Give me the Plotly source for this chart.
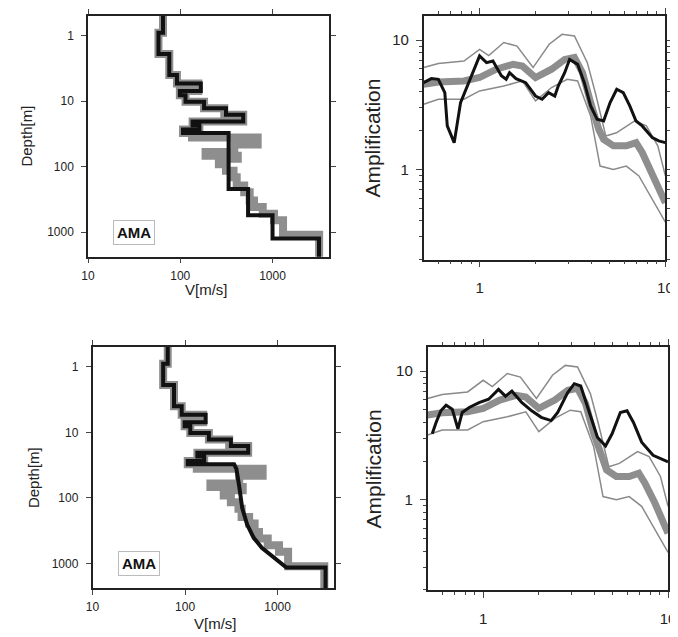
import numpy as np
import plotly.graph_objects as go

FONT = "Liberation Sans, Arial, Helvetica, sans-serif"

# ---- velocity profiles (V [m/s], layer bottom depth [m]) ----
black_v = [65, 58, 76, 92, 167, 99, 114, 181, 313, 481, 136, 161, 107, 334, 543, 1000, 3190]
black_d = [0.9, 1.9, 4.0, 5.4, 7.0, 8.1, 10.2, 12.8, 16.2, 20.4, 23.4, 27.2, 30.6, 219, 555, 1250, 5000]

gray_v = [65, 58, 76, 92, 157, 99, 114, 181, 300, 481, 136, 161, 107, 134, 690, 385, 188,
          420, 262, 313, 378, 409, 493, 565, 630, 783, 1037, 1300, 3200]
gray_d = [0.9, 1.9, 4.0, 5.4, 7.0, 8.1, 10.2, 12.8, 16.2, 20.4, 23.4, 27.2, 30.6, 36, 46, 60, 68,
          76, 92, 116, 146, 195, 246, 330, 415, 524, 661, 1100, 5000]

# smooth lower part of the bottom profile (V, depth)
smooth_v = [339, 359, 383, 415, 469, 552, 676, 935, 1245, 3300, 3300]
smooth_d = [30.6, 36, 63, 143, 254, 405, 574, 815, 1150, 1150, 5000]

# ---- amplification spectra ----
mean_f = [0.5, 0.6, 0.824, 1.0, 1.23, 1.51, 1.70, 2.0, 2.44, 2.87, 3.24, 3.58, 3.96, 4.38,
          4.65, 5.25, 6.16, 6.95, 7.5, 8.5, 9.4, 10.0]
mean_a = [4.56, 4.75, 4.84, 5.14, 5.96, 6.5, 6.3, 5.14, 5.96, 7.1, 7.35, 5.6, 3.29, 2.04,
          1.71, 1.52, 1.52, 1.61, 1.35, 0.94, 0.66, 0.55]

up_f = [0.5, 0.6, 0.824, 1.0, 1.12, 1.35, 1.59, 1.94, 2.37, 2.78, 3.24, 3.8, 4.2, 4.78,
        5.45, 6.84, 7.9, 9.1, 10.0]
up_a = [6.14, 6.6, 6.9, 8.5, 7.6, 9.6, 9.0, 6.14, 9.3, 11.1, 10.8, 6.7, 3.9, 1.81,
        1.92, 2.37, 2.17, 1.52, 0.89]

lo_f = [0.5, 0.6, 0.824, 1.0, 1.35, 1.70, 2.0, 2.44, 2.96, 3.37, 3.96, 4.45, 5.25, 6.16,
        7.2, 8.5, 10.0]
lo_a = [3.19, 3.49, 3.49, 4.05, 4.42, 4.84, 3.39, 4.30, 4.98, 4.84, 2.59, 1.06, 1.0, 1.06,
        0.89, 0.59, 0.39]

obs1_f = [0.5, 0.55, 0.6, 0.65, 0.67, 0.73, 0.79, 0.89, 1.0, 1.09, 1.18, 1.31, 1.39, 1.45,
          1.57, 1.77, 2.0, 2.17, 2.35, 2.54, 2.65, 2.87, 3.05, 3.37, 3.66, 3.96, 4.29, 4.65,
          5.04, 5.47, 5.93, 6.43, 6.95, 7.5, 8.5, 9.2, 10.0]
obs1_a = [4.69, 5.04, 4.98, 3.93, 2.17, 1.61, 3.29, 4.98, 7.56, 6.7, 6.9, 5.3, 4.98, 5.6,
          5.04, 4.69, 3.7, 3.49, 3.93, 3.7, 4.42, 5.6, 7.1, 6.5, 4.69, 3.1, 2.44, 2.37,
          3.29, 4.17, 3.93, 3.1, 2.37, 2.17, 1.76, 1.66, 1.61]

obs2_f = [0.53, 0.556, 0.59, 0.63, 0.68, 0.73, 0.77, 0.84, 0.95, 1.07, 1.21, 1.32, 1.43,
          1.62, 1.83, 2.06, 2.33, 2.53, 2.86, 3.11, 3.37, 3.81, 4.15, 4.59, 4.98, 5.52,
          6.0, 6.5, 7.2, 8.3, 9.2, 10.0]
obs2_a = [3.26, 4.0, 4.92, 5.44, 5.07, 3.56, 4.78, 5.22, 5.7, 6.05, 7.23, 6.4, 7.0,
          5.7, 4.92, 4.38, 4.13, 4.78, 6.8, 8.0, 7.68, 4.5, 3.07, 2.62, 3.26, 4.78,
          4.92, 4.0, 2.81, 2.22, 2.07, 1.97]


def steps(vel, bot, top=0.3):
    xs, ys = [], []
    for v, d in zip(vel, bot):
        xs += [v, v]
        ys += [top, d]
        top = d
    return xs, ys


fig = go.Figure()

gx, gy = steps(gray_v, gray_d)
bx, by = steps(black_v, black_d)
# bottom profile: shallow steps, then smooth curve
n_top = black_d.index(30.6) + 1
sx, sy = steps(black_v[:n_top], black_d[:n_top])
sx += smooth_v
sy += smooth_d

GRAY = "#8e8e8e"
for i, (px, py) in enumerate([(bx, by), (sx, sy)]):
    xa = "x" if i == 0 else "x3"
    ya = "y" if i == 0 else "y3"
    fig.add_trace(go.Scatter(x=gx, y=gy, mode="lines", xaxis=xa, yaxis=ya,
                             line=dict(color=GRAY, width=8), showlegend=False))
    fig.add_trace(go.Scatter(x=px, y=py, mode="lines", xaxis=xa, yaxis=ya,
                             line=dict(color="#111", width=4), showlegend=False))

for xa, ya, of, oa in [("x2", "y2", obs1_f, obs1_a), ("x4", "y4", obs2_f, obs2_a)]:
    fig.add_trace(go.Scatter(x=mean_f, y=mean_a, mode="lines", xaxis=xa, yaxis=ya,
                             line=dict(color=GRAY, width=7), showlegend=False))
    for ff, aa in [(up_f, up_a), (lo_f, lo_a)]:
        fig.add_trace(go.Scatter(x=ff, y=aa, mode="lines", xaxis=xa, yaxis=ya,
                                 line=dict(color="#8a8a8a", width=1.5), showlegend=False))
    fig.add_trace(go.Scatter(x=of, y=oa, mode="lines", xaxis=xa, yaxis=ya,
                             line=dict(color="#111", width=3), showlegend=False))

frame = dict(showline=True, linecolor="#222", linewidth=1.5, mirror="ticks",
             showgrid=False, zeroline=False, ticks="outside", tickcolor="#444")

vel_ax = dict(frame, type="log", range=[1, 3.61], tickvals=[10, 100, 1000],
              ticktext=["10", "100", "1000"], ticklen=5, ticklabelstandoff=2,
              tickfont=dict(size=12, color="#222", family=FONT))
dep_ax = dict(frame, type="log", range=[3.375, -0.3], tickvals=[1, 10, 100, 1000],
              ticktext=["1", "10", "100", "1000"], ticklen=5, ticklabelstandoff=5,
              tickfont=dict(size=12, color="#222", family=FONT))
frq_ax = dict(frame, type="log", range=[np.log10(0.5), 1], tickvals=[1, 10],
              ticktext=["1", "10"], ticklen=6, ticklabelstandoff=8,
              tickfont=dict(size=15, color="#222", family=FONT),
              minor=dict(tickvals=[0.6, 0.7, 0.8, 0.9, 2, 3, 4, 5, 6, 7, 8, 9],
                         ticks="outside", ticklen=3, tickcolor="#444"))
amp_ax = dict(frame, type="log", range=[np.log10(0.2), np.log10(15.4)], tickvals=[1, 10],
              ticktext=["1", "10"], ticklen=6, ticklabelstandoff=4,
              tickfont=dict(size=15, color="#222", family=FONT),
              minor=dict(tickvals=[0.2, 0.3, 0.4, 0.5, 0.6, 0.7, 0.8, 0.9,
                                   2, 3, 4, 5, 6, 7, 8, 9],
                         ticks="outside", ticklen=3, tickcolor="#444"))

# page body has an 8px margin: figure sits at (8, 8) inside the 678x637 window
OFF = 8
W, H = 678 - OFF, 637 - OFF


def xdom(a, b):
    return [(a - OFF) / W, (b - OFF) / W]


def ydom(top, bottom):
    return [1 - (bottom - OFF) / H, 1 - (top - OFF) / H]


fig.update_layout(
    width=W, height=H,
    margin=dict(l=0, r=0, t=0, b=0),
    paper_bgcolor="white", plot_bgcolor="white",
    font=dict(family=FONT, color="#222"),
    xaxis=dict(vel_ax, domain=xdom(82.7, 329), anchor="y"),
    yaxis=dict(dep_ax, domain=ydom(10, 253), anchor="x"),
    xaxis2=dict(frq_ax, domain=xdom(426, 673.3), anchor="y2"),
    yaxis2=dict(amp_ax, domain=ydom(10, 256), anchor="x2"),
    xaxis3=dict(vel_ax, domain=xdom(87.3, 334.3), anchor="y3"),
    yaxis3=dict(dep_ax, domain=ydom(344.3, 587.7), anchor="x3"),
    xaxis4=dict(frq_ax, domain=xdom(430, 676), anchor="y4"),
    yaxis4=dict(amp_ax, domain=ydom(344.3, 589.3), anchor="x4"),
)


def label(text, x, y, size, angle=0):
    fig.add_annotation(text=text, x=(x - OFF) / W, y=1 - (y - OFF) / H,
                       xref="paper", yref="paper", showarrow=False, textangle=angle,
                       xanchor="center", yanchor="middle",
                       font=dict(size=size, color="#222", family=FONT))


label("Depth[m]", 20, 131, 15, -90)
label("Depth[m]", 27, 476, 15, -90)
label("V[m/s]", 204, 286, 15)
label("V[m/s]", 213, 623, 15)
label("Amplification", 374, 133, 21, -90)
label("Amplification", 375, 467, 21, -90)

for xa, ya in [("x", "y"), ("x3", "y3")]:
    fig.add_annotation(text="<b>AMA</b>", x=1.5, y=3.0, xref=xa, yref=ya,
                       showarrow=False, bgcolor="white", bordercolor="#bbb",
                       borderwidth=1, borderpad=3,
                       font=dict(size=15, color="#111", family=FONT))

fig.write_html("out.html")
